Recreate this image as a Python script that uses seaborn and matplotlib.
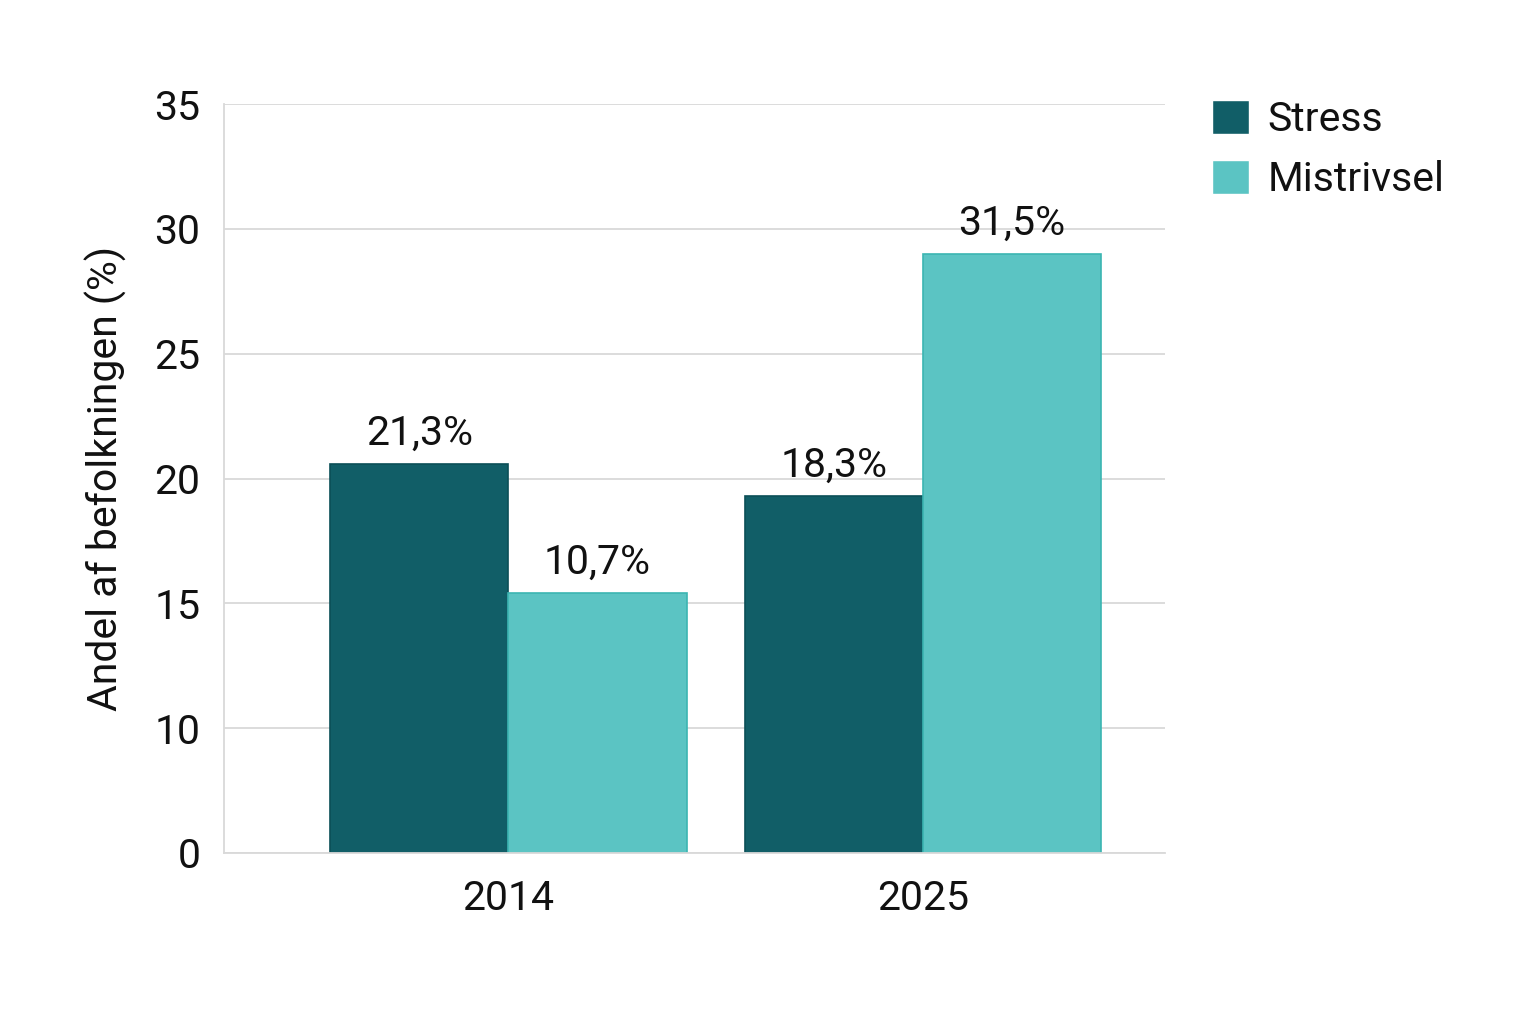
import numpy as np
import pandas as pd
import matplotlib
matplotlib.use("Agg")
import matplotlib.pyplot as plt
import seaborn as sns

# Data
years = ["2014", "2025"]
series = ["Stress", "Mistrivsel"]
stress_height = [20.6, 19.3]        # bar tops as drawn against the axis
mistrivsel_height = [15.4, 29.0]
stress_labels = [21.3, 18.3]        # printed value labels
mistrivsel_labels = [10.7, 31.5]
y_ticks = [0, 10, 15, 20, 25, 30, 35]

colors = {"Stress": "#115E67", "Mistrivsel": "#5BC4C3"}
edges = {"Stress": "#0B4F57", "Mistrivsel": "#3BB5B2"}

df = pd.DataFrame({
    "year": years * 2,
    "serie": ["Stress"] * 2 + ["Mistrivsel"] * 2,
    "value": stress_height + mistrivsel_height,
})

FS = 29.5

sns.set_theme(style="white")
plt.rcParams["font.family"] = ["Roboto", "DejaVu Sans"]

fig = plt.figure(figsize=(15.36, 10.24), dpi=100)
ax = fig.add_axes([224 / 1536, 1 - 853 / 1024, (1165 - 224) / 1536, (853 - 104) / 1024])

sns.barplot(data=df, x="year", y="value", hue="serie", hue_order=series,
            order=years, palette=colors, width=0.86, saturation=1, ax=ax)


# the axis in the picture places 0,10,15,...,35 at equal steps
def forward(y):
    y = np.asarray(y, dtype=float)
    return np.where(y < 10, y / 10.0, 1 + (y - 10) / 5.0)


def inverse(s):
    s = np.asarray(s, dtype=float)
    return np.where(s < 1, s * 10.0, 10 + (s - 1) * 5.0)


ax.set_yscale("function", functions=(forward, inverse))
ax.set_ylim(0, 35)
ax.set_yticks(y_ticks)
ax.set_yticklabels([str(t) for t in y_ticks])
ax.minorticks_off()
ax.set_xlim(-0.686, 1.584)

# edges and value labels
label_sets = {"Stress": stress_labels, "Mistrivsel": mistrivsel_labels}
for cont, name in zip(ax.containers, series):
    for bar in cont:
        bar.set_edgecolor(edges[name])
        bar.set_linewidth(1.2)
    ax.bar_label(cont, labels=[f"{v:.1f}%".replace(".", ",") for v in label_sets[name]],
                 padding=8, fontsize=FS, color="#111111")

ax.grid(True, axis="y", color="#D9D9D9", linewidth=1.3)
ax.set_axisbelow(True)
for side in ["top", "right"]:
    ax.spines[side].set_visible(False)
for side in ["left", "bottom"]:
    ax.spines[side].set_color("#D9D9D9")
    ax.spines[side].set_linewidth(1.3)

ax.tick_params(axis="both", length=0, labelsize=FS, colors="#111111")
ax.tick_params(axis="y", pad=17)
ax.tick_params(axis="x", pad=19)
ax.set_xlabel("")
ax.set_ylabel("Andel af befolkningen (%)", fontsize=FS, color="#111111")
ax.yaxis.set_label_coords(-0.1035, 0.5)

handles, labels = ax.get_legend_handles_labels()
ax.legend(handles, labels, loc="upper left",
          bbox_to_anchor=(1212 / 1536, 1 - 100 / 1024), bbox_transform=fig.transFigure,
          frameon=False, fontsize=FS, labelcolor="#111111",
          handlelength=0.9, handleheight=0.9,
          handletextpad=0.45, labelspacing=0.5, borderpad=0, borderaxespad=0)

fig.savefig("out.png", dpi=100, facecolor="white")
plt.close(fig)
